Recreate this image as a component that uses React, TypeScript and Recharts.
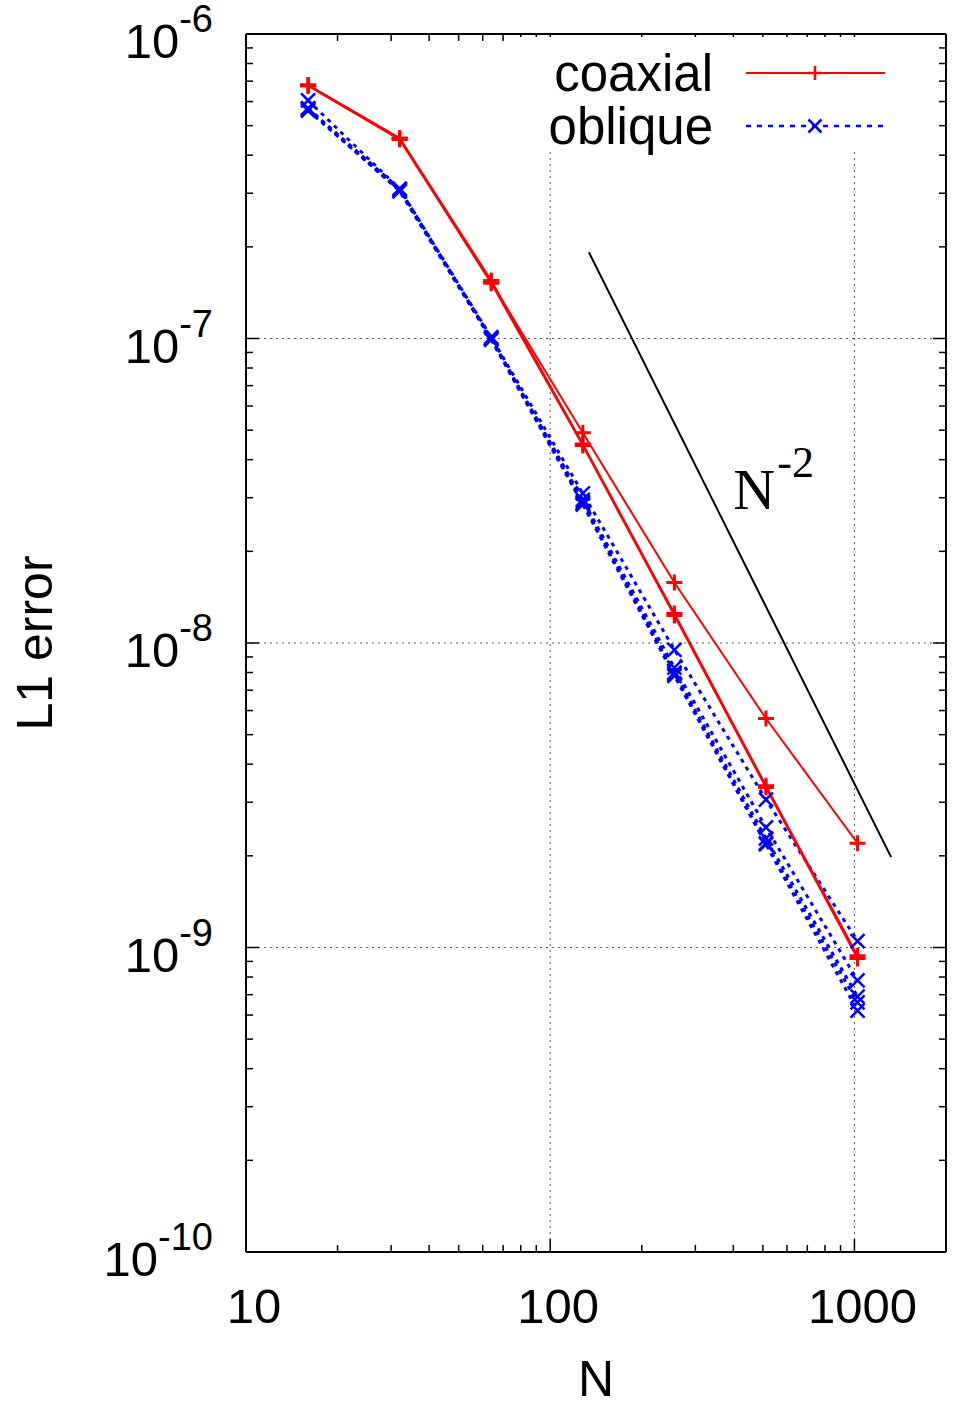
import React from 'react';
import {
  LineChart, Line, XAxis, YAxis, ReferenceLine, ReferenceDot, Legend,
} from 'recharts';

// grid sizes
const N = [16, 32, 64, 128, 256, 512, 1024];

// coaxial runs (red, solid, "+")
const coaxialA = [6.8e-7, 4.55e-7, 1.55e-7, 4.5e-8, 1.25e-8, 3.4e-9, 9.4e-10];
const coaxialB = [6.8e-7, 4.55e-7, 1.53e-7, 4.9e-8, 1.58e-8, 5.65e-9, 2.2e-9];
const coaxialC = [6.75e-7, 4.5e-7, 1.52e-7, 4.45e-8, 1.23e-8, 3.35e-9, 9.2e-10];

// oblique runs (blue, dotted, "x")
const obliqueA = [6.05e-7, 3.1e-7, 1.01e-7, 3.1e-8, 9.5e-9, 3.06e-9, 1.05e-9];
const obliqueB = [5.7e-7, 3.05e-7, 1.0e-7, 2.95e-8, 8.3e-9, 2.48e-9, 7.8e-10];
const obliqueC = [5.7e-7, 3.1e-7, 1.0e-7, 2.9e-8, 8.0e-9, 2.28e-9, 6.9e-10];
const obliqueD = [5.65e-7, 3.05e-7, 0.99e-7, 2.85e-8, 7.8e-9, 2.18e-9, 6.2e-10];
const obliqueE = [5.6e-7, 3.08e-7, 1.0e-7, 2.88e-8, 7.9e-9, 2.2e-9, 6.6e-10];

// N^-2 reference slope
const slopeN = [134, 1320];
const slopeErr = [1.92e-7, 1.98e-9];

const X_MAJOR = [10, 100, 1000];
const Y_MAJOR = [1e-10, 1e-9, 1e-8, 1e-7, 1e-6];

const COAX = ['c1', 'c2', 'c3'];
const OBL = ['o1', 'o2', 'o3', 'o4', 'o5'];

const data = N.map((n, i) => ({
  n,
  c1: coaxialA[i], c2: coaxialB[i], c3: coaxialC[i],
  o1: obliqueA[i], o2: obliqueB[i], o3: obliqueC[i], o4: obliqueD[i], o5: obliqueE[i],
}));

const slopeData = slopeN.map((n, i) => ({ n, err: slopeErr[i] }));

// major + minor (2..9) log ticks
const withMinors = (majors: number[]) => {
  const out: number[] = [];
  majors.forEach((m, i) => {
    out.push(m);
    if (i < majors.length - 1) for (let k = 2; k <= 9; k++) out.push(+(k * m).toPrecision(3));
  });
  return out;
};
const xTicks = withMinors(X_MAJOR);
const yTicks = withMinors(Y_MAJOR);

const isMajor = (v: number) => Math.abs(Math.log10(v) - Math.round(Math.log10(v))) < 1e-6;

const SANS = '"Liberation Sans", Arial, Helvetica, sans-serif';
const SERIF = '"Liberation Serif", "Times New Roman", serif';
const MAJ = 13;
const MIN = 7;

const tickLine = (x1: number, y1: number, x2: number, y2: number) => (
  <line x1={x1} y1={y1} x2={x2} y2={y2} stroke="#000" strokeWidth={1.5} />
);

const BottomTick = (p: any) => {
  const v = p.payload.value;
  const major = isMajor(v);
  return (
    <g>
      {tickLine(p.x, p.y, p.x, p.y - (major ? MAJ : MIN))}
      {major && (
        <text x={p.x + 8} y={p.y + 71} textAnchor="middle" fontSize={49} fontFamily={SANS} fill="#000">
          {v}
        </text>
      )}
    </g>
  );
};

const TopTick = (p: any) => {
  const major = isMajor(p.payload.value);
  return <g>{tickLine(p.x, p.y, p.x, p.y + (major ? MAJ : MIN))}</g>;
};

const LeftTick = (p: any) => {
  const v = p.payload.value;
  const major = isMajor(v);
  const exp = Math.round(Math.log10(v));
  return (
    <g>
      {tickLine(p.x, p.y, p.x + (major ? MAJ : MIN), p.y)}
      {major && (
        <text x={p.x - 33} y={p.y + 24} textAnchor="end" fontSize={49} fontFamily={SANS} fill="#000">
          10<tspan dy={-26} fontSize={38}>{exp}</tspan>
        </text>
      )}
    </g>
  );
};

const RightTick = (p: any) => {
  const major = isMajor(p.payload.value);
  return <g>{tickLine(p.x, p.y, p.x - (major ? MAJ : MIN), p.y)}</g>;
};

const plus = (cx: number, cy: number, h: number) => `M${cx - h},${cy}H${cx + h}M${cx},${cy - h}V${cy + h}`;
const cross = (cx: number, cy: number, h: number) =>
  `M${cx - h},${cy - h}L${cx + h},${cy + h}M${cx - h},${cy + h}L${cx + h},${cy - h}`;

const PlusDot = (p: any) => (
  <path key={`${p.dataKey}-${p.index}`} d={plus(p.cx, p.cy, 8)} stroke="#ff0000" strokeWidth={3} fill="none" />
);
const CrossDot = (p: any) => (
  <path key={`${p.dataKey}-${p.index}`} d={cross(p.cx, p.cy, 7)} stroke="#0000ff" strokeWidth={2.5} fill="none" />
);

const renderLegend = () => (
  <svg width={380} height={124} style={{ display: 'block', overflow: 'visible' }}>
    <rect x={0} y={0} width={380} height={115} fill="#fff" />
    <text x={193} y={54} textAnchor="end" fontSize={51} fontFamily={SANS} fill="#000">coaxial</text>
    <line x1={226} y1={36} x2={365} y2={36} stroke="#ff0000" strokeWidth={2} />
    <path d={plus(295, 36, 7)} stroke="#ff0000" strokeWidth={2.5} />
    <text x={193} y={107} textAnchor="end" fontSize={51} fontFamily={SANS} fill="#000">oblique</text>
    <line x1={226} y1={89} x2={365} y2={89} stroke="#0000ff" strokeWidth={2.5} strokeDasharray="5 6" />
    <path d={cross(295, 89, 6.5)} stroke="#0000ff" strokeWidth={2.5} />
  </svg>
);

const SlopeLabel = (p: any) => (
  <text x={p.cx} y={p.cy} fontSize={58} fontFamily={SERIF} fill="#000">
    N<tspan dx={2} dy={-32} fontSize={44}>-2</tspan>
  </text>
);

export default function App() {
  return (
    <div style={{ position: 'absolute', left: 0, top: 0, width: 960, height: 1401, background: '#fff' }}>
      <LineChart width={960} height={1401} data={data} margin={{ top: 0, right: 0, bottom: 0, left: 0 }}>
        <XAxis
          dataKey="n" type="number" scale="log" domain={[10, 2000]} allowDataOverflow
          ticks={xTicks} interval={0} height={149} tickSize={0} tickMargin={0}
          tickLine={false} axisLine={{ stroke: '#000', strokeWidth: 2 }} tick={BottomTick}
          label={(p: any) => (
            <text x={596} y={1396} textAnchor="middle" fontSize={50} fontFamily={SANS} fill="#000">N</text>
          )}
        />
        <XAxis
          xAxisId="top" orientation="top" dataKey="n" type="number" scale="log" domain={[10, 2000]}
          allowDataOverflow ticks={xTicks} interval={0} height={34} tickSize={0} tickMargin={0}
          tickLine={false} axisLine={{ stroke: '#000', strokeWidth: 2 }} tick={TopTick}
        />
        <YAxis
          type="number" scale="log" domain={[1e-10, 1e-6]} allowDataOverflow
          ticks={yTicks} interval={0} width={246} tickSize={0} tickMargin={0}
          tickLine={false} axisLine={{ stroke: '#000', strokeWidth: 2 }} tick={LeftTick}
          label={(p: any) => (
            <text x={52} y={643} textAnchor="middle" fontSize={50} fontFamily={SANS} fill="#000"
              transform="rotate(-90, 52, 643)">L1 error</text>
          )}
        />
        <YAxis
          yAxisId="right" orientation="right" type="number" scale="log" domain={[1e-10, 1e-6]}
          allowDataOverflow ticks={yTicks} interval={0} width={14} tickSize={0} tickMargin={0}
          tickLine={false} axisLine={{ stroke: '#000', strokeWidth: 2 }} tick={RightTick}
        />

        {Y_MAJOR.slice(1, -1).map(v => (
          <ReferenceLine key={`gy${v}`} y={v} stroke="#555" strokeWidth={1} strokeDasharray="2 4" />
        ))}
        {X_MAJOR.slice(1).map(v => (
          <ReferenceLine key={`gx${v}`} x={v} stroke="#555" strokeWidth={1} strokeDasharray="2 4" />
        ))}

        {OBL.map(k => (
          <Line key={k} dataKey={k} stroke="#0000ff" strokeWidth={3} strokeDasharray="4 5"
            dot={CrossDot} activeDot={false} isAnimationActive={false} />
        ))}
        {COAX.map(k => (
          <Line key={k} dataKey={k} stroke="#ff0000" strokeWidth={2}
            dot={PlusDot} activeDot={false} isAnimationActive={false} />
        ))}
        <Line data={slopeData} dataKey="err" stroke="#000" strokeWidth={2} dot={false}
          activeDot={false} isAnimationActive={false} />

        <ReferenceDot x={400} y={2.75e-8} r={0} shape={SlopeLabel} />

        <Legend
          layout="horizontal" verticalAlign="middle" align="center" content={renderLegend}
          wrapperStyle={{ position: 'absolute', left: 520, top: 37, width: 380, height: 124 }}
        />
      </LineChart>
    </div>
  );
}
